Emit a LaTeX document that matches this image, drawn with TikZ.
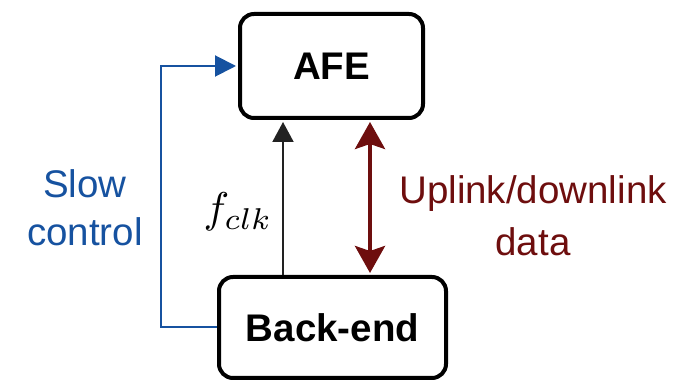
\RequirePackage{fix-cm}
\documentclass[tikz,border=0pt]{standalone}
\usepackage{fontspec}
\setmainfont{Liberation Sans}
\usepackage{xcolor}
\usetikzlibrary{arrows.meta, calc}

\definecolor{slowblue}{RGB}{22,82,160}
\definecolor{datared}{RGB}{110,14,14}
\definecolor{clkgray}{RGB}{34,34,34}

\begin{document}
\begin{tikzpicture}[x=1pt, y=1pt,
  blk/.style={draw, line width=4pt, rounded corners=14pt, inner sep=0pt,
    font=\fontsize{38.5}{40}\selectfont\bfseries},
  lbl/.style={align=center, font=\fontsize{38.5}{#1}\selectfont},
  slowarrow/.style={draw=slowblue, line width=2pt,
    -{Triangle[length=21pt, width=21pt]}, shorten >=2pt},
  clkarrow/.style={draw=clkgray, line width=2pt,
    -{Triangle[length=20pt, width=21pt]}, shorten >=2pt},
  datarrow/.style={draw=datared, line width=4pt,
    {Stealth[length=27pt, width=30pt, inset=5pt]}-{Stealth[length=27pt, width=30pt, inset=5pt]},
    shorten >=2pt, shorten <=2pt}]

\useasboundingbox (0,0) rectangle (700,382);

% Blocks
\node[blk, minimum width=183pt, minimum height=104pt] (afe) at (331.5,316) {AFE};
\node[blk, minimum width=227pt, minimum height=101pt] (be) at (332.5,54.5) {Back-end};

% Columns of the two vertical links
\coordinate (clk) at (283,0);
\coordinate (dat) at (370,0);

% Links
\draw[clkarrow] (clk |- be.north) -- (clk |- afe.south);
\draw[datarrow] (dat |- be.north) -- (dat |- afe.south);
\draw[slowarrow] (be.west) -- ++(-56,0) |- (afe.west);

% Labels
\node[lbl=48, text=slowblue] (slow) at (85,174.5) {Slow\\control};
\node[lbl=52, text=datared] (data) at (533,166.5) {Uplink/downlink\\data};
\node (fclk) at (238,170) {\scalebox{4.3}{$f_{clk}$}};
\end{tikzpicture}
\end{document}
